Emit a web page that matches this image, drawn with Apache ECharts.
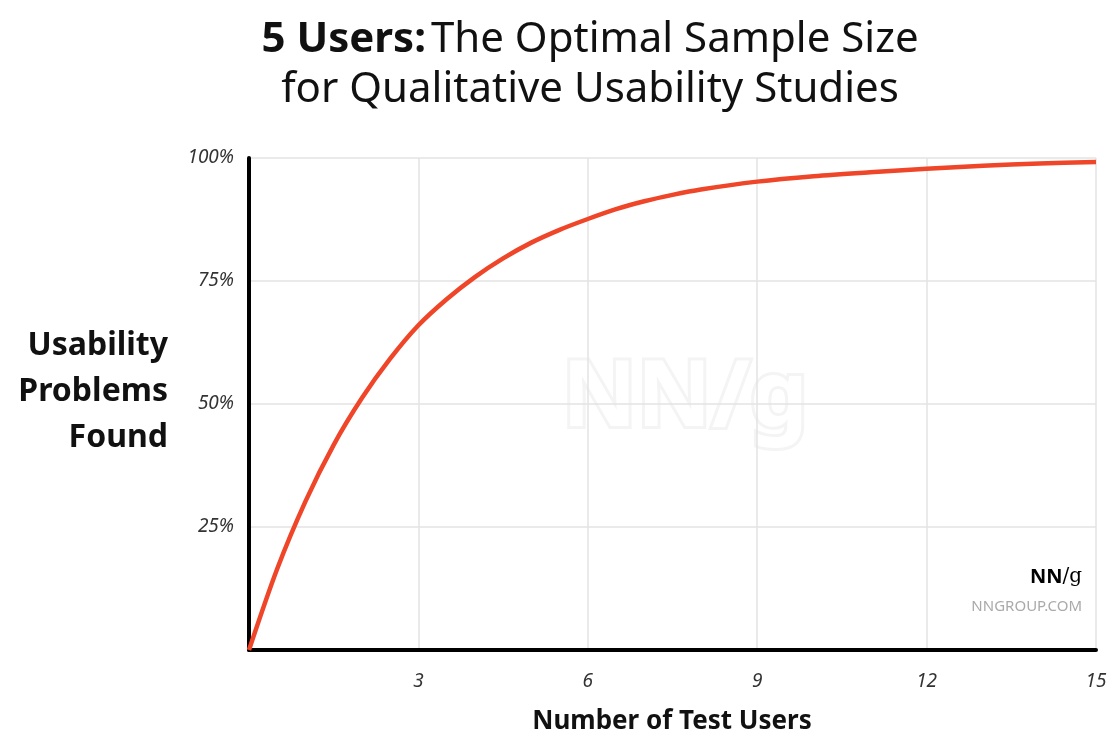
<!DOCTYPE html>
<html>
<head>
<meta charset="utf-8">
<script src="https://cdn.jsdelivr.net/npm/echarts@6/dist/echarts.min.js"></script>
<style>
  html, body { margin: 0; padding: 0; background: #fff; }
  #chart { width: 1110px; height: 736px; }
</style>
</head>
<body>
<div id="chart"></div>
<script>
// number of test users vs share of usability problems found (%)
var users = [0, 0.5, 1, 1.5, 2, 2.5, 3, 3.5, 4, 4.5, 5, 5.5, 6, 6.5, 7, 7.5, 8, 9, 10, 11, 12, 13, 14, 15]
var found = [0, 16.5, 30.2, 41.7, 51.2, 59.2, 66, 71.3, 75.8, 79.6, 82.8, 85.4, 87.6, 89.6, 91.2, 92.5, 93.6, 95.2, 96.3, 97.1, 97.8, 98.4, 98.9, 99.2]
var xTicks = [3, 6, 9, 12, 15]
var yTicks = [25, 50, 75, 100]

var points = users.map(function (u, i) { return [u, found[i]] })
var font = '"Noto Sans", "Open Sans", sans-serif'

var chart = echarts.init(document.getElementById('chart'))
var option = {
  backgroundColor: '#fff',
  animation: false,
  title: {
    text: '{b|5 Users:} {r|The Optimal Sample Size}\n{r|for Qualitative Usability Studies}',
    left: 585,
    textAlign: 'center',
    top: 10,
    textStyle: {
      rich: {
        b: { fontFamily: font, fontSize: 42, fontWeight: 'bold', color: '#111', lineHeight: 50 },
        r: { fontFamily: font, fontSize: 42, fontWeight: 'normal', color: '#111', lineHeight: 50 }
      }
    }
  },
  grid: { left: 249, right: 14, top: 158, bottom: 86 },
  xAxis: {
    type: 'value',
    min: 0,
    max: 15,
    interval: 3,
    axisLine: { show: true, lineStyle: { color: '#000', width: 4 } },
    axisTick: { show: false },
    splitLine: { show: true, lineStyle: { color: '#e3e3e3', width: 1.5 } },
    axisLabel: {
      margin: 22,
      fontFamily: font,
      fontStyle: 'italic',
      fontSize: 19,
      color: '#333',
      formatter: function (v) { return xTicks.indexOf(v) >= 0 ? String(v) : '' }
    }
  },
  yAxis: {
    type: 'value',
    min: 0,
    max: 100,
    interval: 25,
    axisLine: { show: true, lineStyle: { color: '#000', width: 4 } },
    axisTick: { show: false },
    splitLine: { show: true, lineStyle: { color: '#e3e3e3', width: 1.5 } },
    axisLabel: {
      margin: 15,
      fontFamily: font,
      fontStyle: 'italic',
      fontSize: 19,
      color: '#333',
      formatter: function (v) { return yTicks.indexOf(v) >= 0 ? v + '%' : '' }
    }
  },
  graphic: [
    {
      type: 'text',
      x: 685,
      y: 400,
      z: -1,
      silent: true,
      style: {
        text: 'NN/g',
        align: 'center',
        verticalAlign: 'middle',
        fontFamily: font,
        fontSize: 92,
        fontWeight: 'bold',
        fill: '#ffffff',
        stroke: '#f4f4f4',
        lineWidth: 6
      }
    },
    {
      type: 'text',
      x: 168,
      y: 392,
      style: {
        text: 'Usability\nProblems\nFound',
        align: 'right',
        verticalAlign: 'middle',
        fontFamily: font,
        fontSize: 32,
        fontWeight: 'bold',
        lineHeight: 46,
        fill: '#111'
      }
    },
    {
      type: 'text',
      x: 672,
      y: 722,
      style: {
        text: 'Number of Test Users',
        align: 'center',
        verticalAlign: 'middle',
        fontFamily: font,
        fontSize: 26,
        fontWeight: 'bold',
        fill: '#111'
      }
    },
    {
      type: 'text',
      x: 1082,
      y: 577,
      style: {
        text: '{n|NN}{g|/g}',
        align: 'right',
        verticalAlign: 'middle',
        rich: {
          n: { fontFamily: font, fontSize: 20, fontWeight: 'bold', color: '#333' },
          g: { fontFamily: '"DejaVu Serif", serif', fontSize: 20, color: '#333' }
        }
      }
    },
    {
      type: 'text',
      x: 1082,
      y: 607,
      style: {
        text: 'NNGROUP.COM',
        align: 'right',
        verticalAlign: 'middle',
        fontFamily: font,
        fontSize: 15,
        fill: '#aaa'
      }
    }
  ],
  series: [
    {
      type: 'line',
      data: points,
      smooth: 0.3,
      showSymbol: false,
      z: 5,
      lineStyle: { color: '#ef4528', width: 4.5 }
    }
  ]
}
chart.setOption(option)
</script>
</body>
</html>
